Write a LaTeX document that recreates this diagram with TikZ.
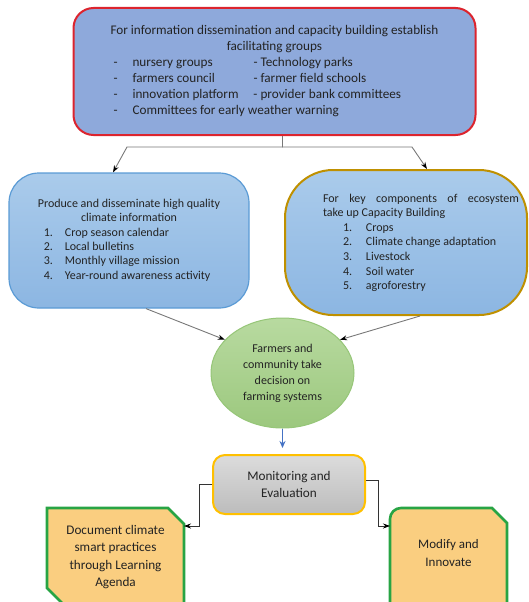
\documentclass[tikz,border=0pt]{standalone}
\usepackage{fontspec}
\setmainfont{Carlito}
\usetikzlibrary{arrows.meta,shapes.geometric}

\definecolor{infofill}{RGB}{142,169,219}
\definecolor{infored}{RGB}{220,36,46}
\definecolor{skytop}{RGB}{170,203,235}
\definecolor{skybot}{RGB}{140,182,226}
\definecolor{skyline}{RGB}{91,155,213}
\definecolor{goldline}{RGB}{191,144,0}
\definecolor{leaftop}{RGB}{184,218,160}
\definecolor{leafbot}{RGB}{156,200,126}
\definecolor{leafline}{RGB}{150,198,120}
\definecolor{montop}{RGB}{220,220,220}
\definecolor{monbot}{RGB}{188,188,188}
\definecolor{monline}{RGB}{255,192,0}
\definecolor{docfill}{RGB}{250,206,128}
\definecolor{docline}{RGB}{40,164,68}
\definecolor{txt}{RGB}{35,35,35}
\definecolor{linkgray}{RGB}{120,120,120}
\definecolor{linkblue}{RGB}{68,114,196}

\tikzset{
  box/.style={inner sep=0pt, text=txt},
  link/.style={draw=linkgray, line width=0.9pt, -{Stealth[color=black,length=7pt,width=5pt]}},
  bluelink/.style={draw=linkblue, line width=0.9pt, -{Stealth[length=7pt,width=6pt]}},
  snip/.style={draw=docline, line width=2.6pt, fill=docfill}
}

\begin{document}
\begin{tikzpicture}[x=1pt,y=-1pt]
\clip (0,0) rectangle (528,602);

% facilitating groups
\node[box, draw=infored, line width=2pt, fill=infofill, rounded corners=20pt,
  minimum width=402pt, minimum height=127pt] (info) at (274.5,71.5) {\fontsize{13.2}{16}\selectfont
  \begin{tabular}{@{}p{22pt}@{}p{121pt}@{}l@{}}
  \multicolumn{3}{@{}c@{}}{For information dissemination and capacity building establish}\\
  \multicolumn{3}{@{}c@{}}{facilitating groups}\\
  \hspace{3pt}- & nursery groups & - Technology parks\\
  \hspace{3pt}- & farmers council & - farmer field schools\\
  \hspace{3pt}- & innovation platform & - provider bank committees\\
  \hspace{3pt}- & \multicolumn{2}{@{}l@{}}{Committees for early weather warning}
  \end{tabular}};

% the two branches
\node[box, draw=skyline, line width=1.2pt, top color=skytop, bottom color=skybot, rounded corners=30pt,
  minimum width=240pt, minimum height=135pt] (prod) at (129,240.5) {\fontsize{12}{14.4}\selectfont
  \begin{tabular}{@{}p{6pt}@{}p{21pt}@{}l@{}}
  \multicolumn{3}{@{}c@{}}{Produce and disseminate high quality}\\
  \multicolumn{3}{@{}c@{}}{climate information}\\
  & 1. & Crop season calendar\\
  & 2. & Local bulletins\\
  & 3. & Monthly village mission\\
  & 4. & Year-round awareness activity
  \end{tabular}};
\node[box, draw=goldline, line width=2pt, top color=skytop, bottom color=skybot, rounded corners=48pt,
  minimum width=242pt, minimum height=145pt] (eco) at (406,242.5) {};
\node[box] (ecotxt) at (421,243) {\fontsize{12}{14.6}\selectfont
  \begin{tabular}{@{}p{20pt}@{}p{23pt}@{}l@{}}
  \multicolumn{3}{@{}l@{}}{\makebox[196pt][s]{For key components of ecosystem}}\\
  \multicolumn{3}{@{}l@{}}{take up Capacity Building}\\
  & 1. & Crops\\
  & 2. & Climate change adaptation\\
  & 3. & Livestock\\
  & 4. & Soil water\\
  & 5. & agroforestry
  \end{tabular}};

\draw[link] ([xshift=8pt]info.south) |- (127,147) -- ([xshift=-16pt]prod.north);
\draw[link] ([xshift=8pt]info.south) |- (412,147) -- ([xshift=21pt]eco.north);

% decision
\node[box, ellipse, draw=leafline, line width=1pt, top color=leaftop, bottom color=leafbot,
  minimum width=143pt, minimum height=110pt, align=center, font=\fontsize{12}{16}\selectfont]
  (farm) at (282.5,373) {Farmers and\\community take\\decision on\\farming systems};
\draw[link] ([xshift=17pt]prod.south) -- (farm.150);
\draw[link] ([xshift=14pt]eco.south) -- (farm.30);

% monitoring
\node[box, draw=monline, line width=2pt, top color=montop, bottom color=monbot, rounded corners=12pt,
  minimum width=152pt, minimum height=59pt, align=center, font=\fontsize{13.2}{16.5}\selectfont]
  (mon) at (289,484.5) {Monitoring and\\Evaluation};
\draw[bluelink, shorten >=6pt] (farm.south) -- (farm.south |- mon.north);

% outcomes
\draw[snip] (47,508) -- (168,508) -- (184,524) -- (184,606) -- (65,606) -- (47,588) -- cycle;
\draw[snip] (390,612) [rounded corners=11pt] -- (390,508) [sharp corners] -- (492,508) -- (507,523) -- (507,612) -- cycle;
\node[box, align=center, font=\fontsize{13.2}{17.6}\selectfont] (doc) at (115.5,557)
  {Document climate\\smart practices\\through Learning\\Agenda};
\node[box, align=center, font=\fontsize{13}{18}\selectfont] (mod) at (448.5,553) {Modify and\\Innovate};
\coordinate (doc-in) at (184,526);
\coordinate (mod-in) at (390,526);

\draw[link, draw=black!80, line width=0.7pt] (mon.west) -- ++(-13,0) |- (doc-in);
\draw[link, draw=black!80, line width=0.7pt] ([yshift=4pt]mon.east) -- ++(12,0) |- (mod-in);
\end{tikzpicture}
\end{document}
